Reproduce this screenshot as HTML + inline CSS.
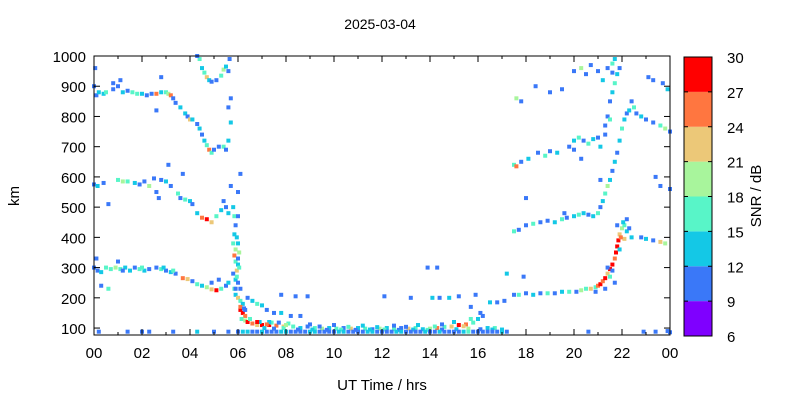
<!DOCTYPE html>
<html><head><meta charset="utf-8"><style>
body{margin:0;background:#fff}
svg text{font-family:"Liberation Sans",sans-serif;fill:#000}
</style></head><body>
<svg id="chart" width="800" height="400" xmlns="http://www.w3.org/2000/svg">
<rect width="800" height="400" fill="#fff"/>
<text x="380" y="29" font-size="14" text-anchor="middle">2025-03-04</text>
<text x="19" y="196" font-size="15" text-anchor="middle" transform="rotate(-90 19 196)">km</text>
<text x="382" y="390" font-size="15" text-anchor="middle">UT Time / hrs</text>
<text x="761" y="196" font-size="15" text-anchor="middle" transform="rotate(-90 761 196)">SNR / dB</text>
<g id="marks"></g>
<g id="axes"></g>
<g id="cbar"></g>
</svg>
<script>
const xTicks=[0,2,4,6,8,10,12,14,16,18,20,22,24];
const xTickLabels=["00","02","04","06","08","10","12","14","16","18","20","22","00"];
const yTicks=[100,200,300,400,500,600,700,800,900,1000];
const cbTicks=[6,9,12,15,18,21,24,27,30];
const cbColors=["#7f00ff","#3a78f8","#14c8e6","#58f5c8","#a8f59c","#ecc878","#ff7640","#ff0000"];
const morningLow=[[0,300,10],[0.15,290,10],[0.3,285,13],[0.5,300,16],[0.7,295,16],[0.9,300,19],[1.1,295,16],[1.3,300,13],[1.5,290,13],[1.7,300,10],[1.9,295,16],[2.1,290,13],[2.3,295,10],[2.6,300,10],[2.8,295,16],[3.0,290,10],[3.2,285,13],[3.4,280,10],[3.7,265,25],[3.9,262,22],[4.1,255,10],[4.3,245,16],[4.5,240,13],[4.7,235,19],[4.9,228,22],[5.1,225,28],[5.3,230,16],[5.5,240,10],[5.6,250,13],[5.2,260,10],[4.9,250,10],[0.1,330,10],[0.3,240,10],[0.6,230,16],[1.0,320,10],[2.9,300,13],[3.3,290,16],[1.2,290,10],[2.0,300,16]];
const morningMid=[[0,575,10],[0.15,570,13],[0.4,580,10],[0.6,510,10],[1.0,590,16],[1.2,585,19],[1.4,585,16],[1.7,580,13],[1.9,575,10],[2.1,585,10],[2.3,570,19],[2.5,595,10],[2.8,590,10],[3.0,585,13],[3.2,570,10],[3.5,545,16],[3.6,530,10],[3.8,525,16],[4.0,520,13],[4.1,510,10],[4.3,480,13],[4.5,465,25],[4.7,460,28],[4.9,450,22],[5.1,470,16],[5.3,490,13],[5.5,500,10],[5.6,480,13],[5.4,520,10],[2.6,550,10],[2.7,530,10],[3.1,640,10],[3.7,610,10]];
const morningHigh=[[0,900,10],[0.1,870,10],[0.2,880,13],[0.4,875,13],[0.5,880,16],[0.8,890,10],[1.0,900,10],[1.1,920,10],[1.2,880,13],[1.4,885,10],[1.6,880,16],[1.8,875,16],[2.0,875,13],[2.2,870,10],[2.4,875,10],[2.6,875,25],[2.8,880,13],[3.0,880,16],[3.1,875,19],[3.2,870,25],[3.3,860,10],[3.4,845,10],[3.6,830,13],[3.8,810,13],[3.9,800,10],[4.0,790,22],[4.1,790,13],[4.3,775,10],[4.4,760,13],[4.5,740,10],[4.6,720,13],[4.7,705,16],[4.8,690,25],[4.9,680,16],[5.0,690,10],[5.2,700,10],[5.4,700,16],[5.5,690,10],[5.6,720,13],[5.7,780,13],[5.6,830,10],[0.8,910,10],[2.8,930,10],[2.6,820,10],[4.4,990,16],[4.5,960,13],[4.6,945,16],[4.7,930,22],[4.8,920,13],[4.9,915,10],[5.1,920,10],[5.3,935,16],[5.4,955,19],[5.5,965,13],[5.6,950,10],[5.65,990,10],[4.3,1000,10],[5.7,860,10],[0.05,960,10]];
const descent=[[5.8,500,13],[5.85,470,16],[5.9,440,10],[5.85,410,13],[5.8,380,16],[5.9,360,19],[5.85,340,25],[5.9,320,16],[6.0,310,13],[5.95,290,22],[6.05,300,16],[5.8,280,10],[5.9,260,13],[6.0,250,10],[5.85,230,16],[5.9,210,13],[6.0,200,22],[6.1,190,16],[6.2,180,13],[6.1,160,28],[6.2,150,28],[6.3,140,25],[6.15,130,16],[6.3,125,19],[6.4,120,28],[6.6,115,25],[6.8,110,22],[7.0,110,28],[7.3,110,28],[7.6,108,25],[7.9,105,22],[6.4,200,10],[6.6,190,13],[6.8,180,16],[7.0,175,13],[7.2,160,10],[7.5,150,10],[7.8,150,13],[8.2,140,10],[8.6,140,10],[8.4,205,10],[7.8,210,10],[6.1,230,10],[6.0,330,10],[6.0,380,13],[6.0,550,10],[6.1,610,10],[6.0,470,10],[5.7,570,10],[6.5,130,16],[6.9,120,13],[7.4,118,16],[6.3,160,10],[5.95,270,16],[5.9,230,10],[6.05,350,19],[5.95,400,13],[6.1,170,25],[6.25,165,10]];
const daytime=[[8.3,105,16],[8.6,100,13],[8.9,105,10],[9.2,100,16],[9.5,98,19],[9.8,100,13],[10.1,98,16],[10.4,100,10],[10.7,98,22],[11.0,100,13],[11.3,98,16],[11.6,96,10],[11.9,98,19],[12.2,100,13],[12.5,96,16],[12.8,100,10],[13.1,98,22],[13.4,100,16],[13.7,96,13],[14.0,98,19],[14.3,100,25],[14.6,104,16],[14.9,105,22],[15.2,110,28],[15.5,112,25],[15.8,118,16],[16.0,130,13],[16.2,140,10],[16.4,100,13],[16.7,100,16],[17.0,95,13],[7.3,120,13],[7.7,118,10],[8.1,115,16],[9.0,112,10],[10.0,110,10],[11.2,108,13],[12.5,108,10],[13.5,110,13],[14.5,112,10],[15.0,120,13],[15.7,130,16],[16.5,185,13],[16.8,185,10],[17.1,190,10],[16.1,150,10],[15.7,170,10],[13.2,200,10],[14.1,200,13],[14.4,200,10],[14.8,200,13],[15.2,205,10],[15.9,210,10],[12.1,205,10],[13.9,300,10],[14.3,300,10],[8.9,205,10]];
const daytimeExtra=[[7.1,100,13],[7.5,98,10],[7.9,100,16],[8.5,95,10],[9.1,95,13],[9.7,94,10],[10.3,95,16],[10.9,94,10],[11.5,95,13],[12.1,95,16],[12.7,94,10],[13.3,95,13],[13.9,94,16],[14.5,95,10],[15.1,96,13],[15.6,98,19],[16.1,96,10],[16.6,95,13],[8.0,110,19],[9.4,105,10],[10.6,104,16],[11.8,103,13],[13.0,104,10],[14.2,105,16],[15.4,106,22],[6.8,120,28],[7.2,112,25]];
const baseline=[[0.2,88,10],[1.4,88,10],[2.0,88,10],[2.3,88,10],[3.3,88,10],[4.3,88,13],[5.0,88,10],[5.6,88,10],[6.0,88,10],[6.2,88,13],[6.4,88,13],[6.6,88,10],[6.8,88,10],[7.0,88,13],[7.2,88,10],[7.4,88,10],[7.6,88,10],[7.8,88,13],[8.0,88,13],[8.2,88,10],[8.4,88,10],[8.6,88,10],[8.8,88,10],[9.0,88,13],[9.2,88,13],[9.4,88,10],[9.6,88,10],[9.8,88,10],[10.0,88,10],[10.2,88,13],[10.4,88,13],[10.6,88,10],[10.8,88,10],[11.0,88,10],[11.2,88,10],[11.4,88,13],[11.6,88,13],[11.8,88,10],[12.0,88,10],[12.2,88,10],[12.4,88,10],[12.6,88,13],[12.8,88,13],[13.0,88,10],[13.2,88,10],[13.4,88,10],[13.6,88,10],[13.8,88,13],[14.0,88,10],[14.2,88,10],[14.4,88,13],[14.6,88,10],[14.8,88,10],[15.0,88,10],[15.2,88,10],[15.4,88,13],[15.6,88,16],[15.8,88,10],[16.0,88,10],[16.2,88,10],[16.4,88,10],[16.6,88,10],[16.8,88,10],[17.0,88,13],[17.2,88,10],[20.6,88,10],[22.9,88,10],[23.4,88,10],[23.9,90,10],[24.0,86,10]];
const eveningLow=[[17.5,210,10],[17.7,210,16],[18.0,215,10],[18.3,210,13],[18.6,215,10],[18.9,215,16],[19.2,215,10],[19.5,220,13],[19.8,220,16],[20.1,220,10],[20.3,225,19],[20.5,230,16],[20.7,230,22],[20.9,235,16],[21.0,240,25],[21.1,245,28],[21.2,255,25],[21.3,265,28],[21.4,280,22],[21.5,295,28],[21.6,310,28],[21.7,330,25],[21.75,350,28],[21.8,370,28],[21.85,390,28],[21.9,410,22],[22.0,430,19],[22.1,440,16],[22.2,420,13],[22.3,430,10],[22.1,395,22],[21.9,360,13],[21.6,290,10],[21.3,230,10],[20.9,220,10],[21.8,440,10],[22.4,400,13],[22.8,400,10],[23.0,395,13],[23.3,390,10],[23.6,385,22],[23.8,380,19],[22.2,460,10],[21.7,250,10],[17.2,280,13],[17.9,270,10],[21.5,270,16],[21.95,400,25],[22.05,450,13],[21.4,300,10]];
const eveningMid=[[17.5,420,16],[17.7,425,10],[18.0,440,10],[18.3,445,16],[18.6,450,10],[18.9,455,10],[19.2,450,13],[19.5,460,16],[19.7,465,10],[20.0,470,13],[20.2,475,16],[20.4,480,13],[20.6,475,10],[20.8,470,13],[21.0,480,16],[21.1,500,10],[21.2,520,13],[21.3,545,16],[21.4,570,19],[21.5,590,13],[21.6,620,10],[21.7,650,13],[21.8,680,10],[21.9,720,13],[22.0,760,16],[22.1,790,13],[22.2,810,10],[22.3,820,13],[22.5,830,16],[22.4,850,10],[22.6,810,10],[22.8,800,13],[23.0,790,10],[23.3,780,10],[23.6,770,16],[23.8,760,19],[24.0,750,10],[18.0,530,10],[19.6,480,10]];
const eveningHigh=[[17.5,640,16],[17.6,635,25],[17.8,650,10],[18.1,660,13],[18.5,680,10],[18.8,670,16],[19.0,685,10],[19.3,680,13],[19.8,700,10],[20.0,720,13],[20.2,730,16],[20.4,720,10],[20.6,710,16],[20.8,725,13],[21.0,730,10],[21.1,700,13],[21.3,770,10],[21.4,800,10],[21.5,850,10],[21.6,880,13],[21.7,910,16],[21.8,940,13],[21.9,960,10],[21.3,740,10],[20.0,690,10],[17.6,860,19],[17.8,850,10],[18.4,900,10],[19.0,880,10],[19.5,890,10],[20.0,950,10],[20.3,960,19],[20.5,940,10],[20.7,970,10],[21.0,950,10],[21.2,920,13],[21.4,960,10],[21.6,975,16],[21.7,990,13],[21.6,945,10],[23.1,930,10],[23.3,920,10],[23.7,910,10],[23.9,890,13],[20.3,660,10],[21.1,590,10],[23.6,570,10],[24.0,560,10],[23.4,600,10],[21.5,790,16]];

const X0=94,X1=670,Y0=335,Y1=56,KMIN=77,KMAX=1000;
const xs=h=>X0+(h/24)*(X1-X0);
const ys=k=>Y0-(k-KMIN)/(KMAX-KMIN)*(Y0-Y1);
const cbY=v=>336-(v-6)/24*(336-57);
const col=s=>cbColors[Math.max(0,Math.min(7,Math.floor((s-6)/3)))];
const NS="http://www.w3.org/2000/svg";
function mk(tag,parent,attrs){const e=document.createElementNS(NS,tag);for(const k in attrs)e.setAttribute(k,attrs[k]);parent.appendChild(e);return e;}
const marks=document.getElementById('marks');
[morningLow,morningMid,morningHigh,descent,daytime,daytimeExtra,baseline,eveningLow,eveningMid,eveningHigh].forEach(series=>{
  series.forEach(p=>{
    const r=mk('rect',marks,{x:xs(p[0])-2,y:ys(p[1])-2,width:4,height:4,fill:col(p[2])});
    
    
  });
});
const axes=document.getElementById('axes');
const frame=mk('rect',axes,{x:X0,y:Y1,width:X1-X0,height:Y0-Y1,fill:'none',stroke:'#000','stroke-width':1});


for(let h=0;h<=24;h++){
  const x=xs(h),len=(h%2===0)?6:3;
  mk('line',axes,{x1:x,y1:Y0,x2:x,y2:Y0-len,stroke:'#000'});
  mk('line',axes,{x1:x,y1:Y1,x2:x,y2:Y1+len,stroke:'#000'});
}
xTicks.forEach((h,i)=>{
  const t=mk('text',axes,{x:xs(h),y:Y0+23,'font-size':15,'text-anchor':'middle'});
  t.textContent=xTickLabels[i];
  
  
});
yTicks.forEach(k=>{
  const y=ys(k);
  mk('line',axes,{x1:X0,y1:y,x2:X0+6,y2:y,stroke:'#000'});
  mk('line',axes,{x1:X1,y1:y,x2:X1-6,y2:y,stroke:'#000'});
  const t=mk('text',axes,{x:X0-8,y:y+6,'font-size':15,'text-anchor':'end'});
  t.textContent=k;
  
  
});
const cbar=document.getElementById('cbar');
cbColors.forEach((c,i)=>{
  const r=mk('rect',cbar,{x:684,y:cbY(cbTicks[i+1]),width:28,height:cbY(cbTicks[i])-cbY(cbTicks[i+1]),fill:c});
  
  
});
mk('rect',cbar,{x:684,y:57,width:28,height:279,fill:'none',stroke:'#000'});
cbTicks.forEach(v=>{
  const y=cbY(v);
  mk('line',cbar,{x1:684,y1:y,x2:688,y2:y,stroke:'#000'});
  mk('line',cbar,{x1:712,y1:y,x2:708,y2:y,stroke:'#000'});
  const t=mk('text',cbar,{x:727,y:y+6,'font-size':15,'text-anchor':'start'});
  t.textContent=v;
  
  
});
</script>
</body></html>
